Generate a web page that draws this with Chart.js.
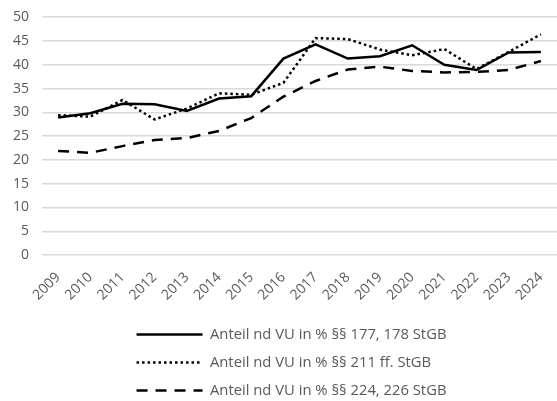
<!DOCTYPE html>
<html>
<head>
<meta charset="utf-8">
<script src="https://cdn.jsdelivr.net/npm/chart.js@4"></script>
<style>
  html, body { margin: 0; padding: 0; background: #fff; }
  #wrap { width: 557px; height: 401px; }
</style>
</head>
<body>
<div id="wrap"><canvas id="myChart"></canvas></div>
<script>
// years on the x axis
var years = ['2009', '2010', '2011', '2012', '2013', '2014', '2015', '2016',
             '2017', '2018', '2019', '2020', '2021', '2022', '2023', '2024'];

// Anteil nd VU in % per offence group
var vu177 = [28.9, 29.8, 31.8, 31.7, 30.3, 32.9, 33.4, 41.3, 44.3, 41.3, 41.8, 44.1, 40.0, 38.9, 42.6, 42.7];
var vu211 = [29.4, 29.1, 32.6, 28.5, 30.8, 34.0, 33.7, 36.2, 45.6, 45.4, 43.2, 42.0, 43.3, 39.1, 42.7, 46.4];
var vu224 = [21.9, 21.5, 22.9, 24.2, 24.6, 26.1, 28.8, 33.3, 36.6, 39.0, 39.6, 38.7, 38.4, 38.5, 38.9, 40.8];

var seriesLabels = [
  'Anteil nd VU in % §§ 177, 178 StGB',
  'Anteil nd VU in % §§ 211 ff. StGB',
  'Anteil nd VU in % §§ 224, 226 StGB'
];

// y axis ticks 0..50
var yMin = 0, yMax = 50, yStep = 5;

var fontFamily = '"Open Sans", sans-serif';
var textColor = '#595959';
var legendSize = 14.8;
var legendShift = 13; // legend block sits a bit right of centre in the original

// legend: keep the dash of each line and pad texts so that all rows start at the same x
function makeLegendLabels(chart) {
  var items = Chart.defaults.plugins.legend.labels.generateLabels(chart);
  var c = chart.ctx;
  c.save();
  c.font = legendSize + 'px ' + fontFamily;
  var widths = items.map(function (it) { return c.measureText(it.text).width; });
  var maxW = Math.max.apply(null, widths);
  items.forEach(function (it) {
    var ds = chart.data.datasets[it.datasetIndex];
    it.lineDash = ds.borderDash;
    it.lineWidth = ds.borderWidth;
    it.lineCap = 'butt';
    var t = it.text;
    while (c.measureText(t + '\u00a0').width <= maxW + 1) t += '\u00a0';
    it.text = t;
  });
  c.restore();
  return items;
}

var shiftLegend = {
  id: 'shiftLegend',
  afterLayout: function (chart) {
    if (chart.legend) {
      chart.legend.left += legendShift;
      chart.legend.right += legendShift;
    }
  }
};

var ctx = document.getElementById('myChart').getContext('2d');
var myChart = new Chart(ctx, {
  type: 'line',
  data: {
    labels: years,
    datasets: [{
      label: seriesLabels[0],
      data: vu177,
      borderColor: '#000',
      backgroundColor: '#000',
      borderWidth: 2.5,
      borderDash: [],
      pointRadius: 0,
      tension: 0
    }, {
      label: seriesLabels[1],
      data: vu211,
      borderColor: '#000',
      backgroundColor: '#000',
      borderWidth: 2.5,
      borderDash: [2.5, 3],
      pointRadius: 0,
      tension: 0
    }, {
      label: seriesLabels[2],
      data: vu224,
      borderColor: '#000',
      backgroundColor: '#000',
      borderWidth: 2.5,
      borderDash: [11, 8],
      pointRadius: 0,
      tension: 0
    }]
  },
  plugins: [shiftLegend],
  options: {
    responsive: true,
    maintainAspectRatio: false,
    animation: false,
    layout: { padding: { left: 0, right: 0, top: 0, bottom: -7 } },
    plugins: {
      tooltip: { enabled: false },
      legend: {
        position: 'bottom',
        align: 'center',
        labels: {
          usePointStyle: true,
          pointStyle: 'line',
          pointStyleWidth: 66,
          boxHeight: legendSize,
          padding: 13.2,
          color: textColor,
          font: { family: fontFamily, size: legendSize },
          generateLabels: makeLegendLabels
        }
      }
    },
    scales: {
      x: {
        offset: true,
        grid: { display: false, drawTicks: true, tickLength: 12 },
        border: { display: false },
        title: { display: true, text: '', padding: 0, font: { size: 7 } },
        ticks: {
          color: textColor,
          font: { family: fontFamily, size: 14 },
          maxRotation: 45,
          minRotation: 45,
          padding: 2,
          autoSkip: false
        }
      },
      y: {
        min: yMin,
        max: yMax,
        grid: { color: '#d9d9d9', lineWidth: 1.5, drawTicks: false },
        border: { display: false },
        ticks: {
          stepSize: yStep,
          color: textColor,
          font: { family: fontFamily, size: 14, lineHeight: 0.6 },
          padding: 13
        }
      }
    }
  }
});
</script>
</body>
</html>
